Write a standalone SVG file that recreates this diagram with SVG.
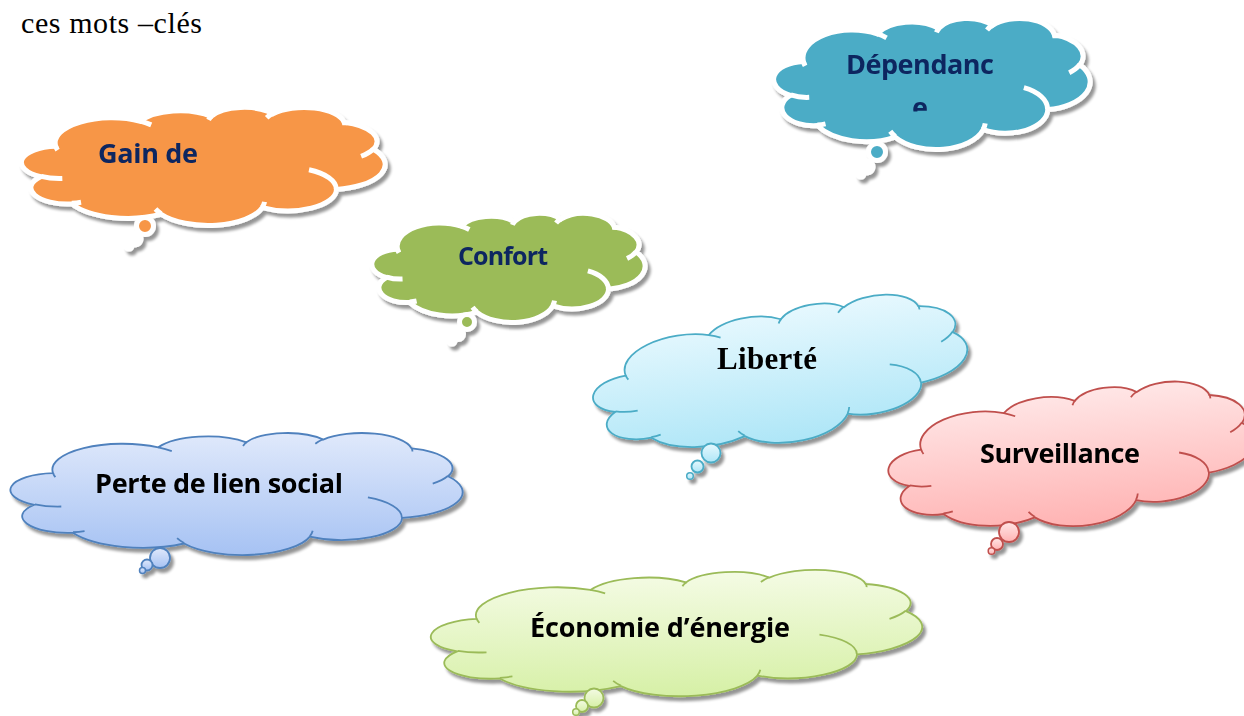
<svg xmlns="http://www.w3.org/2000/svg" width="1244" height="716" viewBox="0 0 1244 716">
<style>
.lbl{font-family:"Open Sans","Liberation Sans",Arial,sans-serif;font-weight:bold;font-size:27px}
.navy{fill:#0F2760}
.blk{fill:#000}
.wb{stroke:#fff;stroke-width:5}
.gs{stroke-width:1.8}
.tw{fill:#fff;stroke:#fff;stroke-width:5}
</style>
<defs>
<path id="cl" vector-effect="non-scaling-stroke" d="M39 143.7 A67.53 91.9 0 0 1 140.06 52.03 A53.33 72.67 0 0 1 224.56 34.34 A43.65 59.45 0 0 1 298.33 24.83 A48.57 65.95 0 0 1 383.18 55.78 A53.33 72.73 0 0 1 418.18 154.62 A67.75 92.2 0 0 1 374.04 302.06 A57.85 78.67 0 0 1 285.56 368.16 A67.52 92.15 0 0 1 164.81 392.7 A77.2 105.43 0 0 1 58.04 354.73 A43.6 59.18 0 0 1 21.12 255.53 A43.45 59.45 0 0 1 39 143.7 Z"/>
<path id="ci" vector-effect="non-scaling-stroke" fill="none" d="M46.93 261.77 A43.45 59.45 0 0 1 21.59 253.79 M69.28 348.99 A43.6 59.18 0 0 1 58.19 352.81 M164.78 390.9 A67.52 92.15 0 0 1 158.1 373.47 M288.27 347.51 A67.52 92.15 0 0 1 285.61 366.6 M341.29 229.54 A57.85 78.67 0 0 1 373.81 300.9 M417.98 153.54 A53.33 72.73 0 0 1 403.49 180.31 M383.24 54.26 A48.57 65.95 0 0 1 384 66.9 M290.78 39.52 A48.57 65.95 0 0 1 298.2 23.39 M221.41 47.2 A43.65 59.45 0 0 1 225 33.3 M140 51.92 A67.53 91.9 0 0 1 153 65.41 M41.27 157.89 A67.53 91.9 0 0 1 39 143.7"/>
<filter id="sh" x="-10%" y="-20%" width="125%" height="150%">
<feGaussianBlur in="SourceAlpha" stdDeviation="1.6"/>
<feOffset dx="3" dy="4"/>
<feComponentTransfer><feFuncA type="linear" slope="0.42"/></feComponentTransfer>
<feMerge><feMergeNode/><feMergeNode in="SourceGraphic"/></feMerge>
</filter>
<linearGradient id="gL" x1="0" y1="0" x2="0" y2="1"><stop offset="0" stop-color="#E6F8FE"/><stop offset="1" stop-color="#AEE6F7"/></linearGradient>
<linearGradient id="gS" x1="0" y1="0" x2="0" y2="1"><stop offset="0" stop-color="#FFE6E6"/><stop offset="1" stop-color="#FFB3B3"/></linearGradient>
<linearGradient id="gP" x1="0" y1="0" x2="0" y2="1"><stop offset="0" stop-color="#E0E9FB"/><stop offset="1" stop-color="#A6C2F3"/></linearGradient>
<linearGradient id="gE" x1="0" y1="0" x2="0" y2="1"><stop offset="0" stop-color="#F4FBE4"/><stop offset="1" stop-color="#D6F0A6"/></linearGradient>
<clipPath id="clipE"><rect x="880" y="80" width="80" height="31.5"/></clipPath>
</defs>

<text x="21" y="33" font-family="Liberation Serif, Times New Roman, serif" font-size="30" textLength="181" fill="#000">ces mots –clés</text>

<g id="connectors"/>

<g id="gain" filter="url(#sh)">
<use href="#cl" transform="matrix(.838 0 0 .2731 23 107)" fill="#F79646" class="wb"/>
<use href="#ci" transform="matrix(.838 0 0 .2731 23 107)" class="wb"/>
<circle cx="135" cy="239" r="6" class="tw"/>
<circle cx="129" cy="246" r="3" class="tw"/>
<circle cx="145" cy="226" r="8.5" fill="#F79646" class="wb"/>
<text x="98" y="163" class="lbl navy" textLength="100">Gain de</text>
</g>

<g id="dependance" filter="url(#sh)">
<use href="#cl" transform="matrix(.7292 0 0 .3032 775 18)" fill="#4BACC6" class="wb"/>
<use href="#ci" transform="matrix(.7292 0 0 .3032 775 18)" class="wb"/>
<circle cx="867" cy="167" r="6" class="tw"/>
<circle cx="861" cy="174" r="3" class="tw"/>
<circle cx="877" cy="152" r="8.5" fill="#4BACC6" class="wb"/>
<text x="846" y="74" class="lbl navy" textLength="148">Dépendanc</text>
<text x="912" y="117" class="lbl navy" clip-path="url(#clipE)">e</text>
</g>

<g id="confort" filter="url(#sh)">
<use href="#cl" transform="matrix(.6296 0 0 .2523 373 213)" fill="#9BBB59" class="wb"/>
<use href="#ci" transform="matrix(.6296 0 0 .2523 373 213)" class="wb"/>
<circle cx="458" cy="334" r="5.5" class="tw"/>
<circle cx="452" cy="341" r="3" class="tw"/>
<circle cx="467" cy="322" r="7.5" fill="#9BBB59" class="wb"/>
<text x="458" y="265" class="lbl navy" style="font-size:25px" textLength="90">Confort</text>
</g>

<g id="liberte" filter="url(#sh)">
<use href="#cl" transform="matrix(.861 -.1236 .0431 .3056 586 336.5)" fill="url(#gL)" stroke="#4BACC6" class="gs"/>
<use href="#ci" transform="matrix(.861 -.1236 .0431 .3056 586 336.5)" stroke="#4BACC6" class="gs"/>
<circle cx="711" cy="453" r="9.5" fill="url(#gL)" stroke="#4BACC6" stroke-width="1.8"/>
<circle cx="697.5" cy="466.5" r="6" fill="url(#gL)" stroke="#4BACC6" stroke-width="1.8"/>
<circle cx="690" cy="476" r="3.3" fill="url(#gL)" stroke="#4BACC6" stroke-width="1.5"/>
<text x="717" y="369" font-family="Liberation Serif, Times New Roman, serif" font-weight="bold" font-size="31" textLength="100" fill="#000">Liberté</text>
</g>

<g id="surveillance" filter="url(#sh)">
<use href="#cl" transform="matrix(.8449 -.0793 .0294 .3118 884 408)" fill="url(#gS)" stroke="#C0504D" class="gs"/>
<use href="#ci" transform="matrix(.8449 -.0793 .0294 .3118 884 408)" stroke="#C0504D" class="gs"/>
<circle cx="1009" cy="532" r="10" fill="url(#gS)" stroke="#C0504D" stroke-width="1.8"/>
<circle cx="997" cy="544" r="6" fill="url(#gS)" stroke="#C0504D" stroke-width="1.8"/>
<circle cx="991.5" cy="551" r="3.3" fill="url(#gS)" stroke="#C0504D" stroke-width="1.5"/>
<text x="980" y="463" class="lbl blk" textLength="160">Surveillance</text>
</g>

<g id="perte" filter="url(#sh)">
<use href="#cl" transform="matrix(1.0417 0 0 .2824 12.4 432.6)" fill="url(#gP)" stroke="#4F81BD" class="gs"/>
<use href="#ci" transform="matrix(1.0417 0 0 .2824 12.4 432.6)" stroke="#4F81BD" class="gs"/>
<circle cx="160" cy="558" r="10" fill="url(#gP)" stroke="#4F81BD" stroke-width="1.8"/>
<circle cx="147" cy="565" r="5.5" fill="url(#gP)" stroke="#4F81BD" stroke-width="1.8"/>
<circle cx="142.5" cy="570.5" r="3" fill="url(#gP)" stroke="#4F81BD" stroke-width="1.5"/>
<text x="95" y="493" class="lbl blk" textLength="248">Perte de lien social</text>
</g>

<g id="economie" filter="url(#sh)">
<use href="#cl" transform="matrix(1.1319 -.0289 .0072 .2845 431.5 579.2)" fill="url(#gE)" stroke="#9BBB59" class="gs"/>
<use href="#ci" transform="matrix(1.1319 -.0289 .0072 .2845 431.5 579.2)" stroke="#9BBB59" class="gs"/>
<circle cx="594" cy="698" r="9.5" fill="url(#gE)" stroke="#9BBB59" stroke-width="1.8"/>
<circle cx="582" cy="706" r="6" fill="url(#gE)" stroke="#9BBB59" stroke-width="1.8"/>
<circle cx="576" cy="712" r="3.3" fill="url(#gE)" stroke="#9BBB59" stroke-width="1.5"/>
<text x="530" y="637" class="lbl blk" textLength="260">Économie d’énergie</text>
</g>
</svg>
